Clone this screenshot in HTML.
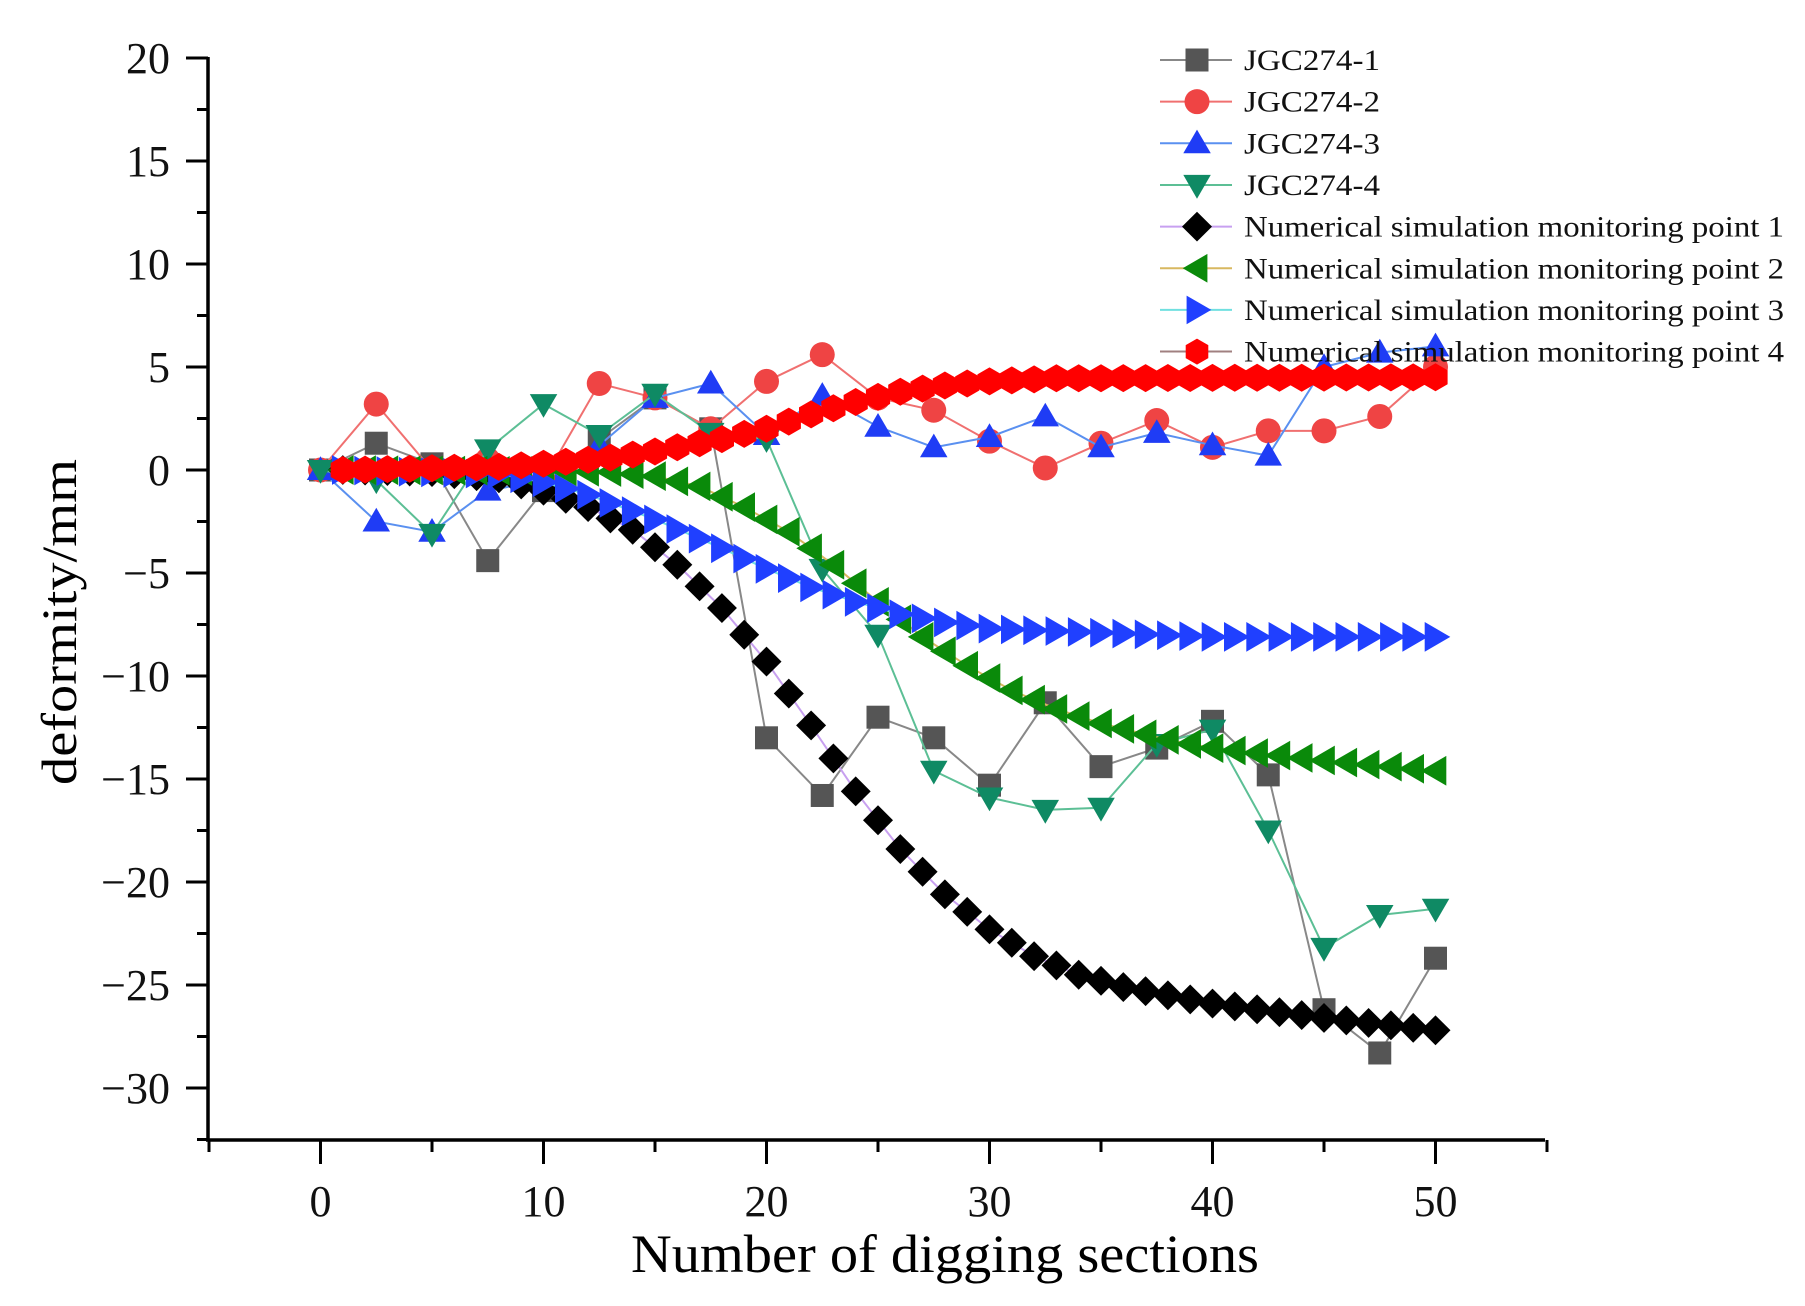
<!DOCTYPE html>
<html><head><meta charset="utf-8"><style>
html,body{margin:0;padding:0;background:#fff;}
svg{display:block;font-family:"Liberation Serif",serif;}
</style></head><body>
<svg id="s" width="1805" height="1306" viewBox="0 0 1805 1306" xmlns="http://www.w3.org/2000/svg">
<rect width="1805" height="1306" fill="#fff"/>
<g id="axes" stroke="#000" stroke-width="3.5" fill="none">
<line x1="208" y1="57" x2="208" y2="1141"/>
<line x1="206" y1="1140" x2="1545" y2="1140"/>
</g>
<g id="ticks" stroke="#000" stroke-width="3"></g>
<g id="lbl" font-size="44" fill="#111"></g>
<text x="945" y="1272" font-size="54" text-anchor="middle" textLength="628" lengthAdjust="spacingAndGlyphs">Number of digging sections</text>
<text transform="translate(76,622) rotate(-90)" font-size="50" text-anchor="middle" textLength="326" lengthAdjust="spacingAndGlyphs">deformity/mm</text>
<g id="plot"></g>
<g id="leg"></g>
</svg>
<script>
const NS="http://www.w3.org/2000/svg";
const X=v=>320.5+22.3*v, Y=v=>470-20.6*v;
function el(p,t,a,txt){const e=document.createElementNS(NS,t);for(const k in a)e.setAttribute(k,a[k]);if(txt!==undefined)e.textContent=txt;p.appendChild(e);return e;}
const tk=document.getElementById('ticks'),lb=document.getElementById('lbl');
for(let v=-30;v<=20;v+=2.5){const y=Y(v);const maj=(v%5===0);el(tk,'line',{x1:maj?186:197,y1:y,x2:208,y2:y});
 if(maj)el(lb,'text',{x:170,y:y+15,'text-anchor':'end'},(v<0?'\u2212'+(-v):''+v));}
el(tk,'line',{x1:197,y1:Y(-32.5),x2:208,y2:Y(-32.5)});
for(let v=-5;v<=55;v+=5){const x=X(v);const maj=(v%10===0);el(tk,'line',{x1:x,y1:1140,x2:x,y2:maj?1164:1152});
 if(maj)el(lb,'text',{x:x,y:1216,'text-anchor':'middle'},''+v);}
function mk(p,type,x,y,c,s){
 if(type==='sq')return el(p,'rect',{x:x-s,y:y-s,width:2*s,height:2*s,fill:c});
 if(type==='ci')return el(p,'circle',{cx:x,cy:y,r:s,fill:c});
 let pts;
 if(type==='up')pts=[[0,-s*1.1],[s*1.1,s*0.8],[-s*1.1,s*0.8]];
 if(type==='dn')pts=[[0,s*1.1],[s*1.1,-s*0.8],[-s*1.1,-s*0.8]];
 if(type==='di')pts=[[0,-s*1.15],[s*1.15,0],[0,s*1.15],[-s*1.15,0]];
 if(type==='lt')pts=[[-s*1.1,0],[s*0.8,-s*1.1],[s*0.8,s*1.1]];
 if(type==='rt')pts=[[s*1.1,0],[-s*0.8,-s*1.1],[-s*0.8,s*1.1]];
 if(type==='hx'){pts=[];for(let i=0;i<6;i++){const a=Math.PI/6+i*Math.PI/3;pts.push([s*Math.cos(a),s*Math.sin(a)]);}}
 return el(p,'polygon',{points:pts.map(q=>(x+q[0]).toFixed(1)+','+(y+q[1]).toFixed(1)).join(' '),fill:c});
}
const ex=[];for(let i=0;i<=20;i++)ex.push(i*2.5);
const E=[
 {t:'sq',c:'#555',l:'#888',s:11.5,y:[0,1.3,0.3,-4.4,-1,1.5,3.5,2,-13,-15.8,-12,-13,-15.3,-11.3,-14.4,-13.5,-12.2,-14.8,-26.2,-28.3,-23.7]},
 {t:'ci',c:'#ef4444',l:'#f07070',s:12.5,y:[0,3.2,0,0.5,-0.5,4.2,3.5,2,4.3,5.6,3.5,2.9,1.4,0.1,1.3,2.4,1.1,1.9,1.9,2.6,5]},
 {t:'up',c:'#1f3cf5',l:'#5a90f0',s:12.5,y:[0,-2.5,-3,-1,-0.5,1.2,3.5,4.2,1.7,3.6,2.1,1.1,1.6,2.6,1.1,1.8,1.2,0.7,5,5.7,6]},
 {t:'dn',c:'#0f8a64',l:'#5cbf95',s:12.5,y:[0,-0.5,-3.1,1,3.2,1.7,3.7,1.8,1.5,-4.8,-8,-14.6,-15.9,-16.5,-16.4,-13.3,-12.6,-17.5,-23.2,-21.6,-21.3]}
];
function interp(k,x){for(let i=0;i<k.length-1;i++){if(x>=k[i][0]&&x<=k[i+1][0]){const f=(x-k[i][0])/(k[i+1][0]-k[i][0]);return k[i][1]+f*(k[i+1][1]-k[i][1]);}}return k[k.length-1][1];}
const S=[
 {t:'di',c:'#000',l:'#c8a0f0',s:13,k:[[1,0],[5,-0.1],[8,-0.4],[10,-1],[12,-1.8],[14,-2.9],[16,-4.6],[18,-6.7],[20,-9.3],[22,-12.4],[24,-15.6],[26,-18.4],[28,-20.6],[30,-22.3],[32,-23.6],[34,-24.5],[36,-25.1],[40,-25.9],[45,-26.6],[50,-27.2]]},
 {t:'lt',c:'#0a8a0a',l:'#d8b860',s:13.5,k:[[1,0],[10,-0.05],[13,-0.1],[15,-0.3],[17,-0.8],[19,-1.8],[21,-3.0],[23,-4.6],[25,-6.4],[27,-8.1],[29,-9.5],[31,-10.7],[33,-11.6],[35,-12.3],[38,-13.1],[40,-13.5],[45,-14.1],[50,-14.6]]},
 {t:'rt',c:'#2040ff',l:'#70e0e0',s:13.5,k:[[1,0],[8,-0.2],[10,-0.6],[12,-1.2],[15,-2.4],[18,-3.8],[20,-4.8],[22,-5.7],[24,-6.4],[26,-7.0],[28,-7.4],[30,-7.7],[35,-7.9],[40,-8.1],[50,-8.1]]},
 {t:'hx',c:'#ff0000',l:'#a08080',s:14,k:[[1,0],[8,0.15],[10,0.3],[13,0.6],[15,0.9],[18,1.5],[20,2.0],[22,2.7],[24,3.3],[26,3.8],[28,4.1],[30,4.3],[33,4.45],[50,4.5]]}
];
const P=document.getElementById('plot');
function series(xs,ys,o){el(P,'polyline',{points:xs.map((x,i)=>X(x).toFixed(1)+','+Y(ys[i]).toFixed(1)).join(' '),fill:'none',stroke:o.l,'stroke-width':2});
 xs.forEach((x,i)=>mk(P,o.t,X(x),Y(ys[i]),o.c,o.s));}
E.forEach(o=>series(ex,o.y,o));
S.forEach(o=>{const xs=[];for(let i=1;i<=50;i++)xs.push(i);series(xs,xs.map(x=>interp(o.k,x)),o);});
const L=document.getElementById('leg');
const names=['JGC274-1','JGC274-2','JGC274-3','JGC274-4','Numerical simulation monitoring point 1','Numerical simulation monitoring point 2','Numerical simulation monitoring point 3','Numerical simulation monitoring point 4'];
const all=E.concat(S);
names.forEach((n,i)=>{const y=60+41.65*i;const o=all[i];
 el(L,'line',{x1:1160,y1:y,x2:1232,y2:y,stroke:o.l,'stroke-width':2});
 mk(L,o.t,1197,y,o.c,Math.min(o.s,13));
 const a={x:1244,y:y+10,'font-size':30,fill:'#111'};if(i>=4){a.textLength=540;a.lengthAdjust='spacingAndGlyphs';}else{a.textLength=136;a.lengthAdjust='spacingAndGlyphs';}
 el(L,'text',a,n);});
</script>
</body></html>
